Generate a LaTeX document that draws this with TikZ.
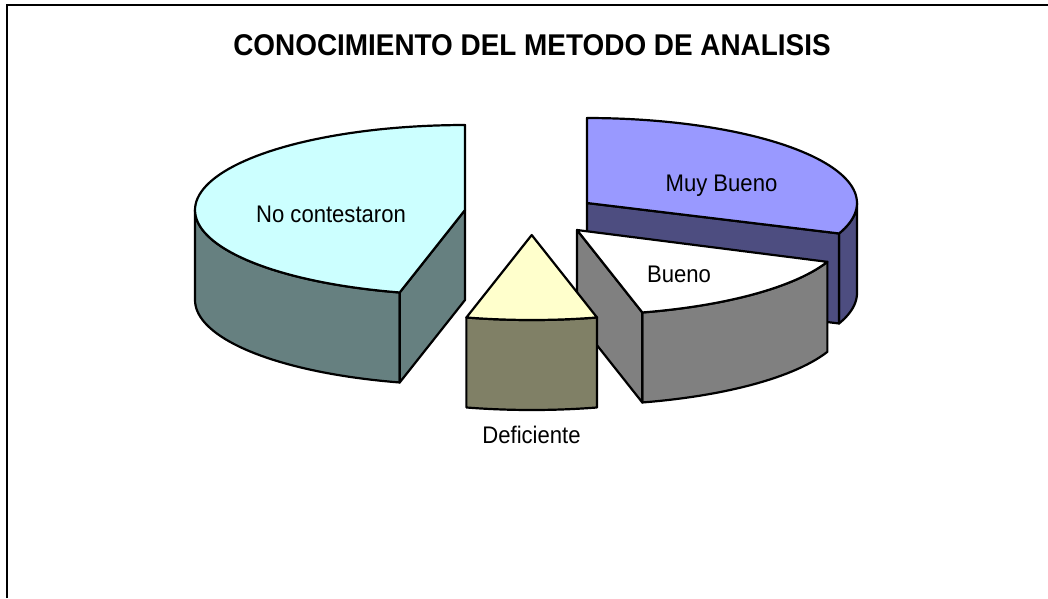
\documentclass[tikz,border=0pt]{standalone}
\usepackage{fontspec}
\setmainfont{Liberation Sans}
\newfontfamily\chartfont[FakeStretch=0.92]{Liberation Sans}
\newfontfamily\titlefont[FakeStretch=0.93]{Liberation Sans}
\usepackage{tikz}

\definecolor{ncTop}{RGB}{204,255,255}
\definecolor{ncSide}{RGB}{102,128,128}
\definecolor{mbTop}{RGB}{153,153,255}
\definecolor{mbSide}{RGB}{77,77,128}
\definecolor{buTop}{RGB}{255,255,255}
\definecolor{buSide}{RGB}{128,128,128}
\definecolor{deTop}{RGB}{255,255,204}
\definecolor{deSide}{RGB}{128,128,102}

\def\rx{270}
\def\ry{85}
\def\dep{90}

\begin{document}
\begin{tikzpicture}[x=1pt,y=-1pt,
    pieface/.style={draw=black,line width=2.2pt,line join=round,fill=#1},
    lbl/.style={font=\chartfont\fontsize{24}{26}\selectfont,anchor=base,inner sep=0pt}]
      \useasboundingbox (0,0) rectangle (1048,598);
      \draw[line width=2pt] (7,598) -- (7,4.5) -- (1048,4.5);
      \node[anchor=base,inner sep=0pt,font=\titlefont\fontsize{30}{32}\selectfont\bfseries]
        (title) at (532,55.5) {CONOCIMIENTO DEL METODO DE ANALISIS};
      % Muy Bueno
      \begin{scope}[shift={(587,203)}]
        \draw[pieface=mbSide] plot[domain=-21:0,samples=20] ({\rx*cos(\x)},{-\ry*sin(\x)})
          -- plot[domain=0:-21,samples=20] ({\rx*cos(\x)},{\dep-\ry*sin(\x)}) -- cycle;
        \draw[pieface=mbSide] (0,0) -- ({\rx*cos(-21)},{-\ry*sin(-21)}) -- ++(0,\dep) -- (0,\dep) -- cycle;
        \draw[pieface=mbTop] (0,0) -- plot[domain=90:-21,samples=60] ({\rx*cos(\x)},{-\ry*sin(\x)}) -- cycle;
      \end{scope}
      % Bueno
      \begin{scope}[shift={(577,230)}]
        \draw[pieface=buSide] plot[domain=-76:-22,samples=30] ({\rx*cos(\x)},{-\ry*sin(\x)})
          -- plot[domain=-22:-76,samples=30] ({\rx*cos(\x)},{\dep-\ry*sin(\x)}) -- cycle;
        \draw[pieface=buSide] (0,0) -- ({\rx*cos(-76)},{-\ry*sin(-76)}) -- ++(0,\dep) -- (0,\dep) -- cycle;
        \draw[pieface=buTop] (0,0) -- plot[domain=-76:-22,samples=30] ({\rx*cos(\x)},{-\ry*sin(\x)}) -- cycle;
      \end{scope}
      % No contestaron
      \begin{scope}[shift={(465,210)}]
        \draw[pieface=ncSide] plot[domain=180:256,samples=40] ({\rx*cos(\x)},{-\ry*sin(\x)})
          -- plot[domain=256:180,samples=40] ({\rx*cos(\x)},{\dep-\ry*sin(\x)}) -- cycle;
        \draw[pieface=ncSide] (0,0) -- ({\rx*cos(256)},{-\ry*sin(256)}) -- ++(0,\dep) -- (0,\dep) -- cycle;
        \draw[pieface=ncTop] (0,0) -- plot[domain=90:256,samples=80] ({\rx*cos(\x)},{-\ry*sin(\x)}) -- cycle;
      \end{scope}
      % Deficiente
      \begin{scope}[shift={(531.7,235)}]
        \draw[pieface=deSide] plot[domain=-104:-76,samples=20] ({\rx*cos(\x)},{-\ry*sin(\x)})
          -- plot[domain=-76:-104,samples=20] ({\rx*cos(\x)},{\dep-\ry*sin(\x)}) -- cycle;
        \draw[pieface=deTop] (0,0) -- plot[domain=-104:-76,samples=20] ({\rx*cos(\x)},{-\ry*sin(\x)}) -- cycle;
      \end{scope}
      \node[lbl] (ncLabel) at (331,222) {No contestaron};
      \node[lbl] (mbLabel) at (721.5,191) {Muy Bueno};
      \node[lbl] (buLabel) at (679,282) {Bueno};
      \node[lbl] (deLabel) at (531.5,443) {Deficiente};
    \end{tikzpicture}
\end{document}
